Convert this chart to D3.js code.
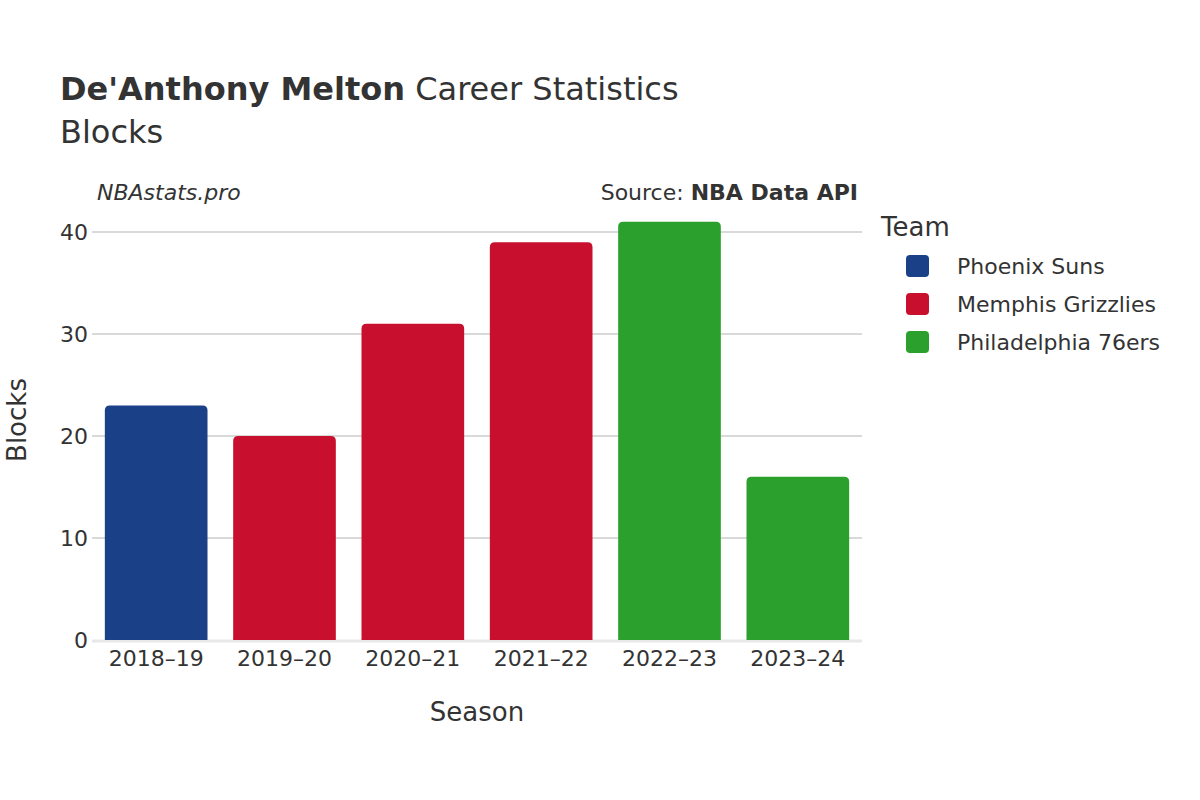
<!DOCTYPE html>
<html><head><meta charset="utf-8">
<script src="https://cdn.jsdelivr.net/npm/d3@7"></script>
<style>body{margin:0;background:#fff}text{font-family:"DejaVu Sans",sans-serif;fill:#333}</style>
</head><body><svg id="c" width="1200" height="800"></svg>
<script>
const seasons=["2018–19","2019–20","2020–21","2021–22","2022–23","2023–24"];
const blocks=[23,20,31,39,41,16];
const teams=["Phoenix Suns","Memphis Grizzlies","Memphis Grizzlies","Memphis Grizzlies","Philadelphia 76ers","Philadelphia 76ers"];
const legendTeams=["Phoenix Suns","Memphis Grizzlies","Philadelphia 76ers"];
const teamColors=["#1a4188","#c8102e","#2ca02c"];
const yTicks=[0,10,20,30,40];

const svg=d3.select("#c");
const color=d3.scaleOrdinal(legendTeams,teamColors);
const x=d3.scaleBand(seasons,[92,862]).paddingInner(0.2).paddingOuter(0.1);
const y=d3.scaleLinear([0,40],[640,232]);

svg.selectAll(".g").data(yTicks.filter(d=>d>0)).join("line")
 .attr("x1",92).attr("x2",862).attr("y1",d=>y(d)).attr("y2",d=>y(d))
 .attr("stroke","#b3b3b3").attr("stroke-width",1.2);
svg.append("line").attr("x1",92).attr("x2",862).attr("y1",y(0)+1).attr("y2",y(0)+1).attr("stroke","#e8e8e8").attr("stroke-width",3);

const r=5;
svg.selectAll(".b").data(blocks).join("path")
 .attr("fill",(d,i)=>color(teams[i]))
 .attr("d",(d,i)=>{const x0=x(seasons[i]),w=x.bandwidth(),t=y(d),b=y(0);
   return `M${x0},${b}V${t+r}Q${x0},${t} ${x0+r},${t}H${x0+w-r}Q${x0+w},${t} ${x0+w},${t+r}V${b}Z`;});

svg.selectAll(".yt").data(yTicks).join("text").attr("x",88).attr("y",d=>y(d)+8)
 .attr("text-anchor","end").attr("font-size",22).text(d=>d);
svg.selectAll(".xt").data(seasons).join("text").attr("x",d=>x(d)+x.bandwidth()/2).attr("y",666)
 .attr("text-anchor","middle").attr("font-size",22).text(d=>d);

svg.append("text").attr("x",477).attr("y",721).attr("text-anchor","middle").attr("font-size",26).text("Season");
svg.append("text").attr("transform","translate(26,420) rotate(-90)").attr("text-anchor","middle").attr("font-size",26).text("Blocks");

const t=svg.append("text").attr("x",60).attr("y",100).attr("font-size",32);
t.append("tspan").attr("font-weight","bold").text("De'Anthony Melton");
t.append("tspan").text(" Career Statistics");
svg.append("text").attr("x",60).attr("y",143).attr("font-size",32).text("Blocks");
svg.append("text").attr("x",97).attr("y",200).attr("font-size",22).attr("font-style","italic").text("NBAstats.pro");
const s=svg.append("text").attr("x",858).attr("y",200).attr("font-size",22).attr("text-anchor","end");
s.append("tspan").text("Source: ");s.append("tspan").attr("font-weight","bold").text("NBA Data API");

svg.append("text").attr("x",881).attr("y",236).attr("font-size",26).text("Team");
const lg=svg.selectAll(".l").data(legendTeams).join("g").attr("transform",(d,i)=>`translate(0,${266+i*38})`);
lg.append("rect").attr("x",906).attr("y",-11).attr("width",23).attr("height",22).attr("rx",4).attr("fill",d=>color(d));
lg.append("text").attr("x",957).attr("y",8).attr("font-size",22).text(d=>d);
</script></body></html>
